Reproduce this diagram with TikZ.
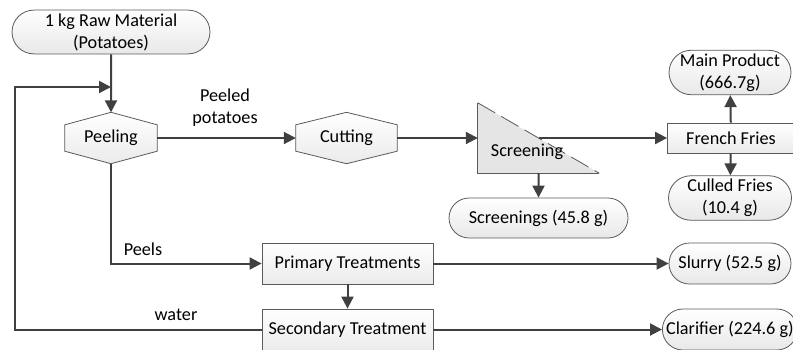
\documentclass[tikz,border=0pt]{standalone}
\usepackage{fontspec}
\setmainfont{Carlito}
\usepackage{tikz}
\usetikzlibrary{calc}
\usetikzlibrary{arrows.meta}
\usetikzlibrary{shapes}
\usetikzlibrary{backgrounds}
\definecolor{flowgray}{HTML}{404040}
\definecolor{edgegray}{HTML}{5A5A5A}
\tikzset{
	align=center,
	flow/.style={
		draw=flowgray,
		line width=2pt,
		-{Triangle[length=12pt,width=12pt]}
	},
	edge/.style={
		draw=edgegray,
		line width=0.8pt,
	},
	stream/.style={
		edge,
		rounded rectangle,
		inner xsep=2pt,
		top color=white,
		bottom color=black!9,
	},
	unit/.style={
		edge,
		rectangle,
		top color=white,
		bottom color=black!8,
	},
	hexbox/.style={
		rectangle,
		inner sep=0pt,
		minimum height=51pt,
	},
	hexline/.style={
		edge,
		top color=white,
		bottom color=black!8,
	},
	lbl/.style={inner sep=0pt},
}

\begin{document}
\begin{tikzpicture}[
		x=1pt,y=-1pt,
		font=\fontsize{18.2pt}{22pt}\selectfont,
	]
		\useasboundingbox (0,0) rectangle (793,349);

		% main line
		\node[stream,minimum width=202pt,minimum height=40pt] (raw) at (111,32) {1 kg Raw Material\\(Potatoes)};
		\node[hexbox,minimum width=92pt]  (peel) at (111,138) {Peeling};
		\node[hexbox,minimum width=101pt] (cut) at (346.5,138) {Cutting};
		\node[rectangle,minimum width=121pt,minimum height=70pt,inner sep=0pt] (screen) at (538.5,138) {};
		\node[lbl] (screenlbl) at (527,152) {Screening};
		\node[unit,minimum width=127pt,minimum height=30pt] (fries) at (731,138) {French Fries};

		% products
		\node[stream,minimum width=126pt,minimum height=39pt] (main) at (730,72.5) {Main Product\\(666.7g)};
		\node[stream,minimum width=127pt,minimum height=40pt] (culled) at (730,198) {Culled Fries\\(10.4 g)};
		\node[stream,minimum width=183pt,minimum height=40pt] (screenings) at (538.5,218) {Screenings (45.8 g)};

		% treatment
		\node[unit,minimum width=171pt,minimum height=41pt] (prim) at (347.5,263.5) {Primary Treatments};
		\node[unit,minimum width=171pt,minimum height=41pt] (sec) at (347.5,329.5) {Secondary Treatment};
		\node[stream,minimum width=126pt,minimum height=41pt] (slurry) at (730,263.5) {Slurry (52.5 g)};
		\node[stream,anchor=west,minimum height=41pt] (clar) at (662,329.5) {Clarifier (224.6 g)};

		\node[lbl] (peeled) at (225,108) {Peeled\\potatoes};
		\node[lbl] (peels) at (143,249) {Peels};
		\node[lbl] (water) at (176,315) {water};

		\coordinate (loop) at (15,87);
		\coordinate (join) at (111,87);

		\begin{scope}[on background layer]
			\foreach \n in {peel,cut} {
				\draw[hexline] (\n.north) -- ($(\n.north east)+(0,12.5)$) -- ($(\n.south east)+(0,-12.5)$)
					-- (\n.south) -- ($(\n.south west)+(0,-12.5)$) -- ($(\n.north west)+(0,12.5)$) -- cycle;
			}
			\fill[black!10] (screen.north west) -- (screen.south west) -- (screen.south east) -- cycle;
			\draw[edge] (screen.south east) -- (screen.south west) -- (screen.north west);
			\draw[edge,dash pattern=on 20pt off 7pt] (screen.north west) -- (screen.south east);
		\end{scope}

		\draw[flow] (raw) -- (peel);
		\draw[flow] (sec.west) -| (loop) -- (join);
		\draw[flow] (peel) -- (cut);
		\draw[flow] (cut) -- (screen.west);
		\draw[flow] (screen.center) -- (fries);
		\draw[flow] (fries) -- (main);
		\draw[flow] (fries) -- (culled);
		\draw[flow] (screen.south) -- (screenings);
		\draw[flow] (peel.south) |- (prim.west);
		\draw[flow] (prim) -- (slurry);
		\draw[flow] (prim) -- (sec);
		\draw[flow] (sec) -- (clar);

	\end{tikzpicture}
\end{document}
